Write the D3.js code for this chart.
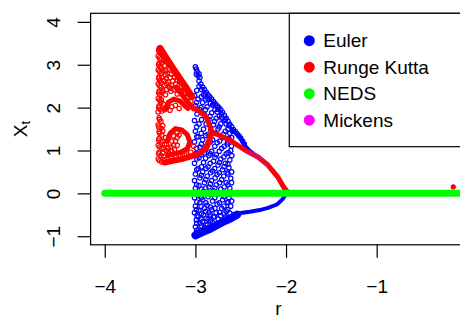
<!DOCTYPE html>
<html>
<head>
<meta charset="utf-8">
<script src="https://cdn.jsdelivr.net/npm/d3@7"></script>
<style>
body { margin: 0; background: #fff; }
svg { display: block; font-family: "Liberation Sans", Arial, Helvetica, sans-serif; }
</style>
</head>
<body>
<script>
// axis ticks
var xTicks = [-4, -3, -2, -1];
var yTicks = [-1, 0, 1, 2, 3, 4];

// legend
var seriesNames = ["Euler", "Runge Kutta", "NEDS", "Mickens"];
var seriesColors = ["#0000ff", "#ff0000", "#00ff00", "#ff00ff"];

// Euler (blue) - dense branches as [r, Xt]
var eulerUpper = [[-2.6,1.5],[-2.55,1.4],[-2.5,1.28],[-2.45,1.1],[-2.4,0.99],[-2.31,0.84],[-2.2,0.66],[-2.1,0.4],[-2.04,0.2],[-2.0,0.02]];
var eulerLower = [[-1.99,0.0],[-2.04,-0.14],[-2.1,-0.26],[-2.2,-0.34],[-2.29,-0.39],[-2.4,-0.43],[-2.5,-0.46],[-2.58,-0.48]];
var eulerBand = [[-3.0,-0.98],[-2.94,-0.92],[-2.85,-0.84],[-2.76,-0.74],[-2.67,-0.64],[-2.6,-0.57],[-2.54,-0.5]];
// Euler scatter
var eulerPts = [
  [-3.0,2.95],[-2.99,2.9],[-2.98,2.84],[-2.99,2.78],[-2.97,2.74],[-2.96,2.79],[-2.95,2.7],
  [-2.96,2.62],[-2.94,2.55],[-2.92,2.48],[-2.9,2.42],[-2.88,2.36],[-2.86,2.3],[-2.84,2.25],[-2.82,2.2],
  [-2.8,2.14],[-2.78,2.09],[-2.76,2.04],[-2.74,2.0],[-2.72,1.95],[-2.7,1.89],[-2.68,1.82],[-2.66,1.75],
  [-2.64,1.68],[-2.62,1.61],[-2.6,1.55],[-2.58,1.49],[-2.56,1.44],[-2.54,1.39],[-2.52,1.34],[-2.5,1.29],
  [-2.48,1.22],[-2.46,1.15],
  [-2.93,2.42],[-2.89,2.32],[-2.85,2.2],[-2.8,2.08],[-2.75,1.96],[-2.71,1.84],[-2.67,1.72],[-2.63,1.58],[-2.59,1.45],
  [-3.01,2.28],[-3.0,2.05],[-3.01,1.7],[-3.0,1.45],[-3.01,1.2],[-3.0,0.92],[-3.01,0.7],[-3.0,0.45],
  [-3.01,0.3],[-3.0,0.12],[-3.01,-0.1],[-3.0,-0.3],[-3.01,-0.45],[-2.99,-0.62],[-3.0,-0.78],[-2.99,-0.92],
  [-2.96,2.5],[-2.97,2.2],[-2.95,1.95],[-2.96,1.62],[-2.97,1.32],[-2.95,1.08],[-2.96,0.83],[-2.97,0.58],
  [-2.95,0.36],[-2.96,0.18],[-2.97,-0.05],[-2.95,-0.22],[-2.96,-0.4],[-2.97,-0.55],[-2.95,-0.7],[-2.96,-0.85],
  [-2.91,2.3],[-2.92,2.12],[-2.9,1.84],[-2.91,1.5],[-2.92,1.25],[-2.9,0.95],[-2.91,0.72],[-2.92,0.5],
  [-2.9,0.25],[-2.91,0.05],[-2.92,-0.15],[-2.9,-0.35],[-2.91,-0.5],[-2.92,-0.66],[-2.9,-0.8],
  [-2.86,2.2],[-2.87,2.02],[-2.85,1.72],[-2.86,1.38],[-2.87,1.12],[-2.85,0.88],[-2.86,0.62],[-2.87,0.4],
  [-2.85,0.15],[-2.86,-0.08],[-2.87,-0.28],[-2.85,-0.45],[-2.86,-0.6],[-2.87,-0.74],
  [-2.81,2.06],[-2.82,1.88],[-2.8,1.6],[-2.81,1.25],[-2.82,0.98],[-2.8,0.75],[-2.81,0.52],[-2.82,0.3],
  [-2.8,0.06],[-2.81,-0.18],[-2.82,-0.38],[-2.8,-0.55],[-2.81,-0.68],
  [-2.76,1.9],[-2.77,1.75],[-2.75,1.5],[-2.76,1.18],[-2.77,0.9],[-2.75,0.66],[-2.76,0.44],[-2.77,0.2],
  [-2.75,-0.02],[-2.76,-0.25],[-2.77,-0.45],[-2.75,-0.6],
  [-2.71,1.76],[-2.72,1.62],[-2.7,1.3],[-2.71,1.05],[-2.72,0.8],[-2.7,0.55],[-2.71,0.32],[-2.72,0.1],
  [-2.7,-0.15],[-2.71,-0.35],[-2.72,-0.52],
  [-2.66,1.62],[-2.67,1.45],[-2.65,1.15],[-2.66,0.92],[-2.67,0.7],[-2.65,0.48],[-2.66,0.25],[-2.67,0.02],
  [-2.65,-0.22],[-2.66,-0.42],[-2.67,-0.55],
  [-2.62,1.4],[-2.63,1.28],[-2.61,1.0],[-2.62,0.78],[-2.63,0.6],[-2.61,0.35],[-2.62,0.12],[-2.63,-0.1],
  [-2.61,-0.3],[-2.62,-0.46],
  [-2.985,2.4],[-2.988,2.12],[-2.982,1.85],[-2.986,1.55],[-2.984,1.32],[-2.987,1.05],[-2.983,0.8],[-2.985,0.55],
  [-2.986,0.2],[-2.984,-0.2],[-2.987,-0.38],[-2.983,-0.52],[-2.985,-0.7],[-2.986,-0.86],
  [-2.935,2.25],[-2.938,2.0],[-2.932,1.72],[-2.936,1.4],[-2.934,1.15],[-2.937,0.9],[-2.933,0.62],[-2.935,0.42],
  [-2.936,0.1],[-2.934,-0.1],[-2.937,-0.3],[-2.933,-0.47],[-2.935,-0.6],[-2.936,-0.76],
  [-2.885,2.18],[-2.888,1.95],[-2.882,1.62],[-2.886,1.35],[-2.884,1.02],[-2.887,0.82],[-2.883,0.58],[-2.885,0.32],
  [-2.886,0.12],[-2.884,-0.22],[-2.887,-0.42],[-2.883,-0.58],[-2.885,-0.72],
  [-2.835,2.1],[-2.838,1.8],[-2.832,1.5],[-2.836,1.2],[-2.834,0.92],[-2.837,0.7],[-2.833,0.48],[-2.835,0.22],
  [-2.836,-0.02],[-2.834,-0.32],[-2.837,-0.5],[-2.833,-0.64],
  [-2.785,1.95],[-2.788,1.68],[-2.782,1.4],[-2.786,1.1],[-2.784,0.84],[-2.787,0.58],[-2.783,0.36],[-2.785,0.12],
  [-2.786,-0.1],[-2.784,-0.35],[-2.787,-0.54],
  [-2.735,1.8],[-2.738,1.55],[-2.732,1.22],[-2.736,0.98],[-2.734,0.72],[-2.737,0.48],[-2.733,0.25],[-2.735,0.0],
  [-2.736,-0.22],[-2.734,-0.44],
  [-2.685,1.7],[-2.688,1.38],[-2.682,1.1],[-2.686,0.85],[-2.684,0.62],[-2.687,0.4],[-2.683,0.15],[-2.685,-0.08],
  [-2.686,-0.3],[-2.684,-0.48],
  [-2.64,1.5],[-2.643,1.2],[-2.638,0.95],[-2.642,0.68],[-2.64,0.45],[-2.641,0.2],[-2.639,-0.02],[-2.64,-0.2],[-2.642,-0.38],
  [-2.6,1.3],[-2.602,1.1],[-2.598,0.88],[-2.6,0.5],[-2.601,0.25],[-2.599,-0.18]
];

// Runge Kutta (red)
var rkMain = [[-1.99,0.05],[-2.03,0.16],[-2.09,0.38],[-2.2,0.66],[-2.31,0.85],[-2.42,0.97],[-2.52,1.1],[-2.62,1.24],[-2.72,1.34],[-2.82,1.43]];
var rkUpper = [[-2.82,1.43],[-2.85,1.62],[-2.88,1.78],[-2.96,1.92],[-3.04,2.02],[-3.12,2.22],[-3.21,2.48]];
var rkLower = [[-2.82,1.43],[-2.85,1.22],[-2.88,1.06],[-2.95,0.94],[-3.05,0.86],[-3.15,0.8],[-3.25,0.76],[-3.34,0.72]];
var rkHook = [[-3.31,1.22],[-3.28,1.4],[-3.22,1.51],[-3.15,1.48],[-3.09,1.37],[-3.06,1.2],[-3.09,1.04],[-3.16,0.96],[-3.24,0.92],[-3.3,0.88]];
var rkUpperHook = [[-3.33,1.98],[-3.3,2.12],[-3.24,2.2],[-3.17,2.15],[-3.12,2.05],[-3.08,1.98]];
var rkEdge = [[-3.39,3.38],[-3.33,3.18],[-3.26,2.95],[-3.18,2.7],[-3.1,2.45],[-3.04,2.25]];
var rkPts = [
  [-3.40,3.36],[-3.39,3.28],[-3.41,3.2],[-3.38,3.12],[-3.40,3.04],[-3.39,2.96],[-3.41,2.88],[-3.38,2.8],
  [-3.40,2.72],[-3.39,2.63],[-3.41,2.55],[-3.38,2.47],[-3.40,2.38],[-3.39,2.3],[-3.41,2.21],[-3.38,2.12],
  [-3.40,2.04],[-3.39,1.96],[-3.41,1.9],
  [-3.36,3.22],[-3.35,3.1],[-3.34,2.98],[-3.36,2.86],[-3.33,2.76],[-3.35,2.64],[-3.34,2.52],[-3.36,2.4],
  [-3.33,2.3],[-3.35,2.08],[-3.34,1.95],
  [-3.3,3.02],[-3.29,2.9],[-3.31,2.8],[-3.28,2.7],[-3.3,2.6],[-3.29,2.48],[-3.27,2.38],[-3.31,2.02],[-3.28,1.94],
  [-3.24,2.84],[-3.23,2.72],[-3.25,2.62],[-3.22,2.55],[-3.24,2.42],[-3.2,2.32],[-3.22,2.05],[-3.18,1.98],
  [-3.17,2.6],[-3.15,2.5],[-3.16,2.38],[-3.13,2.32],[-3.1,2.1],[-3.07,2.05],[-3.02,1.98],[-3.05,2.15],
  [-3.405,3.32],[-3.395,3.16],[-3.405,3.0],[-3.395,2.84],[-3.405,2.68],[-3.395,2.51],[-3.405,2.34],[-3.395,2.17],[-3.405,2.0],
  [-3.37,3.28],[-3.37,3.04],[-3.375,2.92],[-3.37,2.7],[-3.375,2.58],[-3.37,2.35],[-3.375,2.18],[-3.37,1.92],
  [-3.32,3.1],[-3.325,2.86],[-3.32,2.68],[-3.315,2.55],[-3.32,2.42],[-3.32,1.98],
  [-3.27,2.98],[-3.265,2.78],[-3.26,2.52],[-3.27,2.45],[-3.26,2.02],
  [-3.21,2.8],[-3.2,2.64],[-3.21,2.47],[-3.19,2.4],
  [-3.14,2.58],[-3.12,2.44],[-3.11,2.35],[-3.08,2.25],[-3.06,2.3],
  [-3.40,1.76],[-3.38,1.68],[-3.41,1.6],[-3.38,1.52],[-3.40,1.44],[-3.37,1.36],[-3.40,1.28],[-3.38,1.2],
  [-3.41,1.12],[-3.37,1.04],[-3.40,0.96],[-3.38,0.88],[-3.41,0.8],[-3.37,0.73],[-3.36,1.46],[-3.33,1.3],
  [-3.34,1.14],[-3.32,1.0],[-3.35,0.86],[-3.3,0.96],[-3.27,1.08],[-3.26,1.22],[-3.24,1.34],[-3.2,1.42],
  [-3.23,1.02],[-3.2,1.12],[-3.21,0.86],[-3.12,0.9],[-3.05,0.96],[-3.02,1.1],
  [-3.395,1.72],[-3.405,1.55],[-3.395,1.4],[-3.405,1.24],[-3.395,1.08],[-3.405,0.92],[-3.395,0.76],
  [-3.36,1.58],[-3.36,1.22],[-3.35,1.06],[-3.36,0.94],[-3.34,0.78],[-3.32,1.15],[-3.3,1.05],[-3.29,0.92],
  [-3.26,0.98],[-3.24,1.12],[-3.22,1.22],[-3.2,1.3],[-3.18,1.36],[-3.27,0.84],[-3.18,0.86],[-3.1,0.92]
];
var rkFar = [[-0.155, 0.15]];

// NEDS (green) flat at zero, Mickens (magenta) on the red branch
var nedsLine = [[-4, 0], [0.056, 0]];
var mickensPts = [[-2.44,0.99],[-2.41,0.96],[-2.38,0.93],[-2.35,0.9],[-2.32,0.87],[-2.29,0.83],[-2.26,0.78],[-2.23,0.72],[-2.2,0.66]];

// plot region
var W = 460, H = 320;
var pLeft = 90.6, pRight = 472.4, pTop = 13.3, pBottom = 244.8;

var xScale = d3.scaleLinear().domain([-4.156, 0.056]).range([pLeft, pRight]);
var yScale = d3.scaleLinear().domain([-1.2, 4.2]).range([pBottom, pTop]);

var svg = d3.select("body").append("svg")
    .attr("width", W)
    .attr("height", H);

svg.append("rect").attr("width", W).attr("height", H).attr("fill", "#fff");

var line = d3.line()
    .x(d => xScale(d[0]))
    .y(d => yScale(d[1]));

function drawLine(pts, color, w) {
  svg.append("path")
    .datum(pts)
    .attr("d", line)
    .attr("fill", "none")
    .attr("stroke", color)
    .attr("stroke-width", w)
    .attr("stroke-linecap", "round")
    .attr("stroke-linejoin", "round");
}

function drawPts(pts, color, rad, sw) {
  svg.append("g").selectAll("circle")
    .data(pts)
    .enter()
    .append("circle")
    .attr("cx", d => xScale(d[0]))
    .attr("cy", d => yScale(d[1]))
    .attr("r", rad)
    .attr("fill", "none")
    .attr("stroke", color)
    .attr("stroke-width", sw);
}

// Euler
drawLine(eulerBand, seriesColors[0], 8);
drawLine(eulerLower, seriesColors[0], 4);
drawLine(eulerUpper, seriesColors[0], 4);
drawPts(eulerPts, seriesColors[0], 2.2, 1.2);

// Runge Kutta
drawLine(rkEdge, seriesColors[1], 7);
drawLine(rkMain, seriesColors[1], 5);
drawLine(rkUpper, seriesColors[1], 5);
drawLine(rkLower, seriesColors[1], 6);
drawLine(rkHook, seriesColors[1], 5);
drawLine(rkUpperHook, seriesColors[1], 5);
drawPts(rkPts, seriesColors[1], 2.2, 1.2);
svg.append("g").selectAll("circle")
    .data(rkFar)
    .enter()
    .append("circle")
    .attr("cx", d => xScale(d[0]))
    .attr("cy", d => yScale(d[1]))
    .attr("r", 2.6)
    .attr("fill", seriesColors[1]);

// Mickens
drawPts(mickensPts, "#b0209a", 1.6, 0.8);

// NEDS
drawLine(nedsLine, seriesColors[2], 7);

// box
svg.append("rect")
    .attr("x", pLeft).attr("y", pTop)
    .attr("width", pRight - pLeft).attr("height", pBottom - pTop)
    .attr("fill", "none").attr("stroke", "#000").attr("stroke-width", 1.2);

// x axis
var gx = svg.append("g")
    .attr("transform", "translate(0," + pBottom + ")")
    .call(d3.axisBottom(xScale).tickValues(xTicks).tickSize(13).tickFormat(d3.format("d")));
gx.select(".domain").remove();
gx.selectAll("line").attr("stroke", "#000").attr("stroke-width", 1.2);
gx.selectAll("text")
    .attr("y", 48).attr("dy", 0)
    .attr("fill", "#000")
    .style("font-size", "19px")
    .style("font-family", "Liberation Sans, Arial, sans-serif");

// y axis
var gy = svg.append("g")
    .attr("transform", "translate(" + pLeft + ",0)")
    .call(d3.axisLeft(yScale).tickValues(yTicks).tickSize(13).tickFormat(d3.format("d")));
gy.select(".domain").remove();
gy.selectAll("line").attr("stroke", "#000").attr("stroke-width", 1.2);
gy.selectAll("text")
    .attr("transform", "rotate(-90)")
    .attr("x", 0).attr("y", -(pLeft - 60)).attr("dy", 0)
    .attr("text-anchor", "middle")
    .attr("fill", "#000")
    .style("font-size", "19px")
    .style("font-family", "Liberation Sans, Arial, sans-serif");

// axis labels
svg.append("text")
    .attr("x", (pLeft + pRight) / 2 - 3)
    .attr("y", 315)
    .attr("text-anchor", "middle")
    .style("font-size", "19px")
    .text("r");

var ylab = svg.append("text")
    .attr("transform", "translate(27," + ((pTop + pBottom) / 2) + ") rotate(-90)")
    .attr("text-anchor", "middle")
    .style("font-size", "19px");
ylab.append("tspan").text("X");
ylab.append("tspan").attr("dy", 3).style("font-size", "13px").text("t");

// legend
var legX = 289.3, legBottom = 146.7;
svg.append("rect")
    .attr("x", legX).attr("y", pTop)
    .attr("width", pRight - legX).attr("height", legBottom - pTop)
    .attr("fill", "#fff").attr("stroke", "#000").attr("stroke-width", 1.2);

var leg = svg.append("g").selectAll("g")
    .data(seriesNames)
    .enter()
    .append("g")
    .attr("transform", (d, i) => "translate(" + (legX + 20) + "," + (40.7 + i * 26.5) + ")");
leg.append("circle")
    .attr("r", 5.5)
    .attr("fill", (d, i) => seriesColors[i]);
leg.append("text")
    .attr("x", 14)
    .attr("y", 6.7)
    .style("font-size", "19px")
    .text(d => d);
</script>
</body>
</html>
